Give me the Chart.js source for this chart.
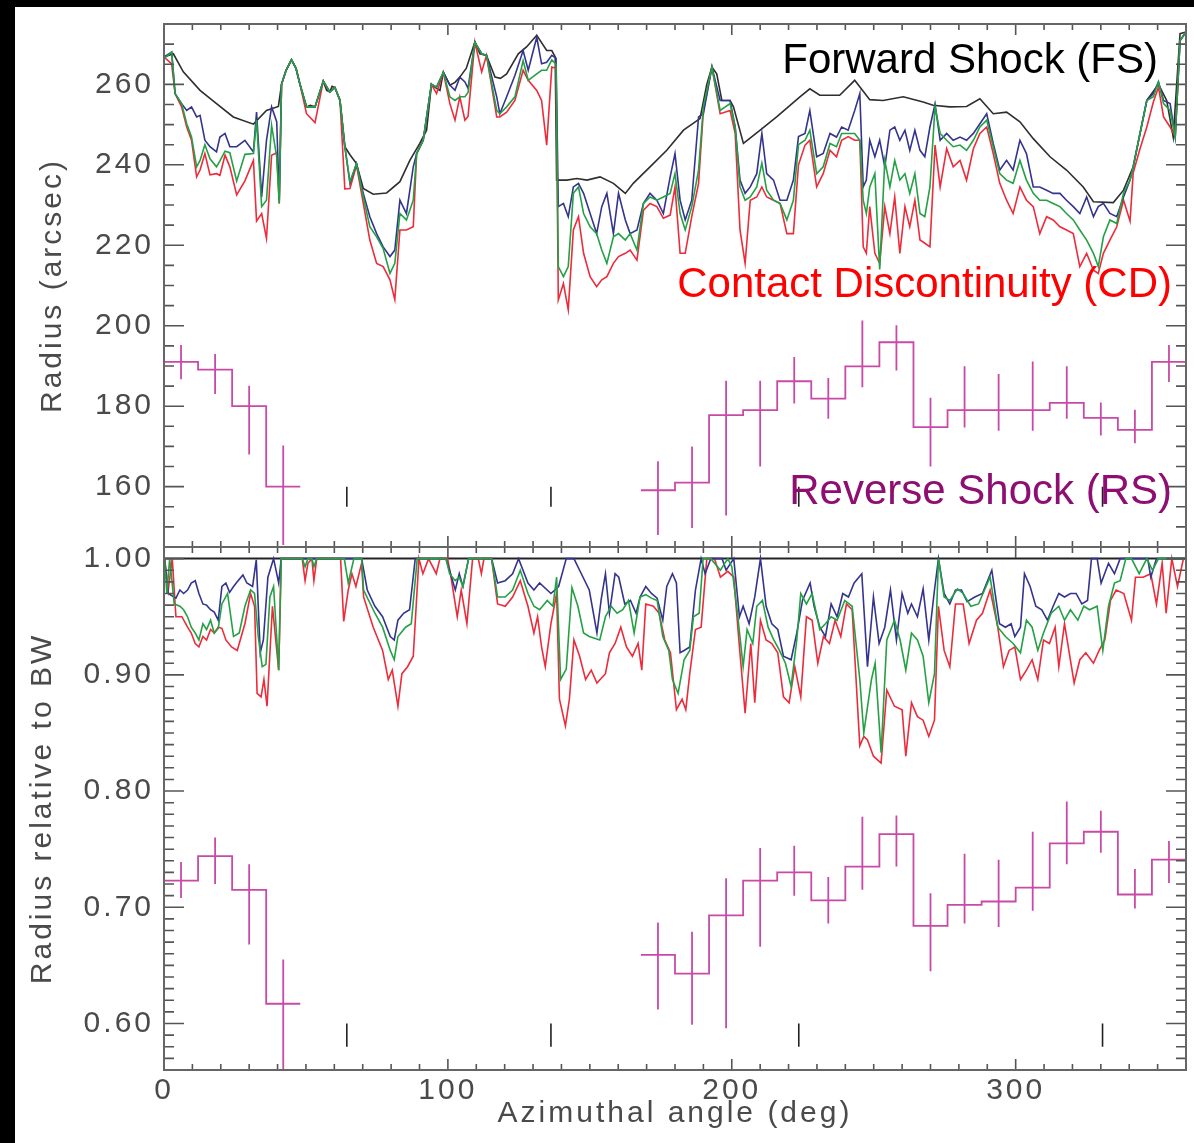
<!DOCTYPE html>
<html>
<head>
<meta charset="utf-8">
<script src="https://cdn.jsdelivr.net/npm/chart.js@4.4.1/dist/chart.umd.min.js"></script>
<style>
  html, body { margin: 0; padding: 0; background: #000; overflow: hidden; }
  #page { position: absolute; left: 15px; top: 7px; width: 1179px; height: 1136px; background: #fff; }
  canvas { position: absolute; left: 0; }
  #top { top: 0; width: 1194px; height: 560px; }
  #bottom { top: 530px; width: 1194px; height: 613px; }
</style>
</head>
<body>
<div id="page"></div>
<canvas id="top" width="1194" height="560"></canvas>
<canvas id="bottom" width="1194" height="613"></canvas>
<script>
// ---- tick labels ----
const angleTicks = [0, 100, 200, 300];
const radiusTicks = [160, 180, 200, 220, 240, 260];
const relTicks = [0.6, 0.7, 0.8, 0.9, 1.0];

// ---- forward shock (FS) radius, arcsec ----
const fsAngle = [0, 3.3, 6.8, 12.7, 18.5, 24.4, 31.5, 36.1, 40.3, 41.4, 43, 44.9, 46.5, 47.9, 50.2, 51.5, 53.2, 56.1, 57.3, 58.4,
  59.2, 60.2, 62, 63.7, 65.5, 67.8, 70.2, 73.7, 78.4, 83.1, 86.6, 90.1, 92.5, 94.2, 96, 97.2, 98.4, 100.7, 102.5, 104.2,
  106.5, 109.5, 111.3, 113.6, 116.6, 118.5, 120.7, 124.8, 127.7, 131.3, 134.8, 136.6, 137.8, 138.3, 141.9, 145.4, 149, 153.6, 158.3, 162.5,
  165.3, 171.2, 177.1, 183, 188.8, 191.2, 193, 194.7, 196.5, 199.4, 200.6, 204.1, 210, 215.8, 224, 227.5, 231, 238, 243.3, 248.6,
  253.3, 260.4, 267.4, 270.9, 276.8, 282.7, 287.4, 292.1, 296.8, 301.5, 306.2, 312.1, 317.9, 323.8, 327.4, 334.4, 338, 341.4, 346.2, 350.3,
  353.2, 355.5, 357.9, 360];
const fsRadius = [266.8, 267.6, 263.1, 258.5, 255.2, 251.9, 250.1, 253.5, 254.5, 260.0, 263.5, 266.1, 264.0, 260.0, 254.4, 254.8, 254.4, 260.8, 258.5, 258.1,
  259.5, 259.2, 256.0, 244.5, 242.5, 240.3, 234.1, 232.7, 233.0, 235.8, 241.1, 245.3, 248.6, 260.0, 259.0, 258.5, 263.0, 259.8, 260.5, 261.8,
  264.0, 270.5, 267.6, 267.2, 261.8, 261.5, 262.6, 267.6, 269.3, 272.2, 268.4, 268.4, 266.8, 236.2, 236.2, 236.6, 236.2, 237.0, 235.4, 232.9,
  235.4, 239.5, 243.6, 248.6, 251.5, 260.0, 264.3, 262.6, 256.0, 256.0, 254.4, 245.3, 248.6, 251.9, 256.9, 258.9, 257.3, 257.3, 261.0, 256.2,
  256.0, 256.9, 255.6, 254.8, 254.4, 254.5, 256.4, 252.7, 253.1, 250.7, 246.5, 242.0, 238.7, 234.5, 230.8, 230.6, 233.7, 239.5, 256.0, 260.0,
  256.0, 246.9, 272.6, 273.0];

// ---- contact discontinuity (CD) radius, three estimates, arcsec ----
const cdAngle = [0, 2.7, 3.9, 6.2, 8, 9.7, 11.5, 12.7, 14.4, 16.2, 18.5, 19.7, 21.5, 23.2, 25.6, 28.5, 31.5, 32.6, 34.4, 36.1,
  37.9, 39.7, 40.6, 41.4, 43, 44.9, 46.5, 47.9, 50.2, 53.2, 56.1, 58.4, 60.2, 62, 63.7, 65.5, 67.8, 70.2, 72.5, 74.9,
  77.2, 79.6, 81.3, 83.1, 85.4, 87.8, 89, 91.3, 94.2, 96, 98.4, 100.7, 102.5, 104.2, 106, 107.1, 109.5, 111.9, 113.6, 117.2,
  118.3, 120.7, 123.6, 126.5, 128.3, 131.3, 133, 134.8, 136.6, 138.1, 138.9, 140.7, 142.4, 144.2, 146, 147.8, 150.1, 152.4, 154.2, 156,
  158.3, 160.1, 162.5, 164.2, 166.6, 168.9, 171.2, 173.6, 175.9, 178.3, 180, 181.8, 183.6, 185.9, 188.3, 190, 193, 195.9, 199.4, 201.2,
  202.9, 204.7, 206.5, 208.8, 210.6, 212.3, 214.7, 217, 219.4, 221.7, 223.5, 225.8, 227.5, 229.9, 232.2, 234.6, 236.9, 238.7, 241, 243.3,
  245.1, 246.3, 247.4, 248.6, 250.4, 252.1, 253.9, 255.7, 257.4, 259.2, 261, 262.7, 264.5, 266.3, 268, 269.8, 271.6, 273.4, 275.7, 278,
  280.4, 282.7, 285.1, 287.4, 289.8, 292.1, 294.4, 296.8, 299.1, 301.5, 303.8, 306.2, 308.5, 310.9, 313.2, 315.6, 317.9, 320.3, 322.6, 325,
  327.4, 329.1, 330.9, 333.2, 335.6, 338, 340.3, 341.4, 343.8, 346.2, 348.5, 350.3, 352.1, 354.4, 356.2, 357.9, 360];
const cdBlue = [266.8, 268.0, 257.7, 255.2, 253.5, 254.4, 251.9, 252.3, 246.1, 244.5, 243.2, 246.9, 247.8, 244.5, 244.5, 246.1, 243.2, 253.1, 232.0, 246.1,
  254.4, 250.7, 231.2, 260.0, 263.5, 266.1, 264.0, 260.0, 254.4, 254.4, 260.8, 258.1, 259.2, 256.0, 244.5, 235.4, 240.3, 232.9, 227.1, 222.9,
  219.6, 217.2, 218.8, 231.2, 227.9, 239.5, 242.8, 246.1, 260.0, 259.3, 263.0, 259.8, 258.5, 261.8, 260.6, 259.0, 270.5, 267.6, 267.2, 256.9,
  252.7, 256.9, 262.2, 268.4, 263.5, 271.7, 265.1, 265.5, 267.2, 266.5, 229.6, 230.4, 227.1, 234.5, 235.4, 232.9, 227.9, 222.9, 229.6, 232.9,
  222.9, 232.9, 226.3, 222.9, 223.8, 230.4, 232.9, 231.2, 227.9, 237.0, 242.8, 231.2, 226.3, 231.2, 251.9, 252.7, 264.3, 256.0, 256.0, 249.4,
  236.2, 232.9, 234.5, 237.8, 247.8, 237.8, 236.2, 231.2, 231.2, 236.2, 247.0, 247.8, 253.5, 242.0, 242.8, 247.8, 246.9, 249.4, 248.6, 253.5,
  257.7, 234.5, 236.2, 246.1, 242.0, 246.1, 239.5, 248.6, 249.4, 246.1, 248.6, 243.6, 248.6, 243.6, 242.0, 249.4, 255.1, 246.1, 247.8, 246.1,
  246.9, 246.1, 247.8, 250.2, 252.7, 245.3, 238.7, 241.1, 238.7, 246.1, 242.8, 234.5, 234.5, 233.7, 232.9, 232.9, 231.2, 229.6, 227.9, 232.0,
  227.1, 229.6, 230.4, 227.9, 227.1, 232.0, 236.2, 239.5, 247.8, 256.0, 257.7, 260.6, 256.0, 255.2, 246.9, 270.9, 273.0];
const cdGreen = [266.4, 268.0, 257.7, 255.2, 250.2, 246.9, 239.5, 241.1, 245.0, 241.5, 239.5, 241.0, 243.4, 243.0, 236.0, 242.6, 242.8, 251.1, 229.6, 231.2,
  249.8, 242.0, 230.4, 260.0, 263.5, 266.1, 264.0, 260.0, 254.4, 254.4, 260.8, 258.1, 259.2, 256.0, 244.5, 235.8, 240.3, 232.0, 224.6, 222.1,
  219.2, 213.0, 215.5, 227.9, 226.3, 231.2, 242.8, 246.1, 260.0, 259.3, 263.0, 256.9, 256.0, 256.9, 256.9, 258.0, 270.5, 267.6, 267.2, 253.5,
  252.7, 254.4, 256.9, 265.9, 261.0, 262.6, 263.5, 263.5, 266.1, 265.0, 214.7, 212.2, 214.7, 232.9, 234.5, 227.9, 224.6, 222.9, 218.8, 215.5,
  222.1, 222.9, 221.3, 222.9, 218.8, 230.4, 232.0, 231.2, 232.0, 232.9, 237.8, 227.9, 223.8, 229.6, 238.7, 254.4, 264.3, 253.5, 255.2, 249.4,
  234.5, 231.2, 232.0, 234.5, 240.4, 233.7, 231.2, 230.4, 226.3, 231.2, 245.0, 246.1, 248.6, 237.8, 239.5, 245.3, 244.5, 247.8, 247.8, 247.8,
  246.1, 231.2, 227.9, 234.5, 237.8, 214.0, 241.1, 234.5, 241.1, 236.2, 237.8, 232.9, 237.8, 227.9, 227.1, 234.5, 254.4, 247.8, 246.1, 244.5,
  244.9, 243.6, 246.1, 249.4, 251.1, 244.5, 237.8, 236.2, 235.4, 241.1, 236.2, 232.9, 231.2, 231.2, 230.4, 229.6, 227.9, 226.3, 223.8, 221.3,
  218.0, 214.7, 222.1, 226.3, 225.4, 233.0, 236.2, 239.5, 247.8, 256.0, 256.9, 260.6, 255.2, 253.5, 246.9, 270.9, 273.0];
const cdRed = [266.8, 265.1, 257.7, 254.4, 249.4, 246.1, 237.0, 238.7, 242.8, 237.5, 237.8, 237.4, 242.4, 239.5, 232.5, 236.0, 241.1, 226.0, 227.9, 221.7,
  242.4, 243.0, 230.4, 260.0, 263.5, 266.1, 264.0, 260.0, 252.7, 250.5, 260.8, 258.1, 259.2, 256.0, 234.0, 234.1, 239.9, 230.4, 221.3, 215.5,
  214.7, 211.4, 206.5, 223.8, 223.8, 224.6, 242.8, 246.1, 260.0, 257.7, 263.0, 255.2, 251.1, 256.9, 251.1, 252.0, 270.5, 263.1, 267.2, 251.9,
  251.9, 253.1, 256.0, 263.5, 261.0, 258.5, 256.0, 244.9, 264.3, 264.0, 206.4, 210.5, 204.0, 223.8, 227.1, 218.0, 212.2, 209.7, 211.4, 212.2,
  215.5, 217.2, 218.0, 218.8, 216.3, 228.7, 230.4, 229.6, 226.7, 227.5, 234.5, 218.0, 218.0, 227.1, 235.4, 253.5, 264.3, 252.7, 253.5, 247.8,
  223.8, 215.5, 231.2, 232.0, 234.5, 232.0, 231.2, 230.4, 222.9, 222.9, 240.0, 244.9, 246.1, 234.5, 237.8, 243.6, 242.0, 246.1, 247.0, 246.1,
  246.1, 219.6, 218.0, 229.6, 218.0, 215.5, 229.6, 222.9, 232.0, 218.0, 229.6, 224.6, 231.2, 221.3, 220.5, 219.6, 244.9, 234.5, 244.0, 239.5,
  241.1, 236.2, 244.0, 247.8, 249.4, 242.8, 235.4, 231.2, 227.9, 234.5, 231.2, 229.6, 222.9, 227.1, 226.3, 224.6, 223.8, 222.9, 214.7, 218.0,
  213.8, 213.0, 218.0, 221.3, 224.6, 231.2, 226.0, 238.0, 244.0, 249.4, 255.6, 259.3, 251.9, 249.4, 246.9, 270.9, 273.0];

// ---- reverse shock (RS), 12 deg bins ----
const rsBinWidth = 12;
const rsAngle = [6, 18, 30, 42, 174, 186, 198, 210, 222, 234, 246, 258, 270, 282, 294, 306, 318, 330, 342, 354];
const rsRadius = [191.0, 189.1, 180.0, 160.0, 159.1, 161.0, 177.8, 179.0, 186.2, 181.9, 189.9, 195.9, 174.8, 179.0, 179.0, 179.0, 180.8, 177.1, 174.1, 191.0];
const rsRadiusLo = [186.7, 183.0, 168.0, 145.5, 148.0, 149.7, 152.8, 165.0, 180.7, 176.9, 184.7, 188.9, 165.0, 174.7, 173.9, 173.9, 176.9, 172.7, 170.8, 186.0];
const rsRadiusHi = [195.2, 193.0, 185.1, 170.2, 166.3, 170.0, 186.3, 186.3, 192.2, 187.0, 201.3, 200.1, 182.1, 189.9, 188.0, 191.1, 189.9, 180.9, 179.1, 195.2];
const rsRel = [0.723, 0.744, 0.715, 0.617, 0.659, 0.643, 0.693, 0.723, 0.730, 0.706, 0.735, 0.763, 0.684, 0.702, 0.705, 0.717, 0.755, 0.765, 0.711, 0.741];
const rsRelLo = [0.708, 0.720, 0.668, 0.560, 0.612, 0.599, 0.596, 0.666, 0.710, 0.686, 0.715, 0.735, 0.645, 0.686, 0.683, 0.697, 0.737, 0.747, 0.699, 0.721];
const rsRelHi = [0.739, 0.760, 0.737, 0.655, 0.687, 0.679, 0.725, 0.751, 0.753, 0.726, 0.778, 0.779, 0.712, 0.746, 0.741, 0.765, 0.791, 0.783, 0.733, 0.757];

// ---- short region markers ----
const markAngle = [64.4, 136.3, 223.6, 330.6];
const markRadius = [155, 160];
const markRel = [0.58, 0.60];

// ---- radius relative to the blast wave ----
const relBlueAngle = [0.2, 1.5, 4.2, 5.6, 6.9, 8.3, 9.6, 11, 12.3, 13.7, 15, 16.4, 17.7, 19.1, 20.4, 21.8, 23.1, 24.5, 25.8, 27.8,
  29.2, 31.2, 32.5, 33.9, 35, 36.6, 38.6, 40.4, 41.3, 69.6, 71.6, 74.3, 77, 79.7, 81.1, 82.4, 84.4, 86.5, 88.5, 99.3,
  100.6, 102.6, 104, 105.3, 107.3, 115.4, 117.5, 120.2, 122.8, 124.9, 128.2, 130.3, 132.3, 136.3, 139, 141.7, 144.4, 146.4, 149.8, 152.5,
  154, 155.5, 156.9, 158.9, 160.2, 162.3, 164.3, 166.3, 167.7, 169.7, 171.7, 173.7, 175.7, 177.1, 179.1, 180.5, 181.8, 183.2, 185.2, 187.2,
  189.2, 190.6, 192.6, 196.6, 198, 200.7, 202.7, 204, 206.1, 208.1, 210.1, 212.1, 214.1, 216.2, 218.2, 220.9, 222.9, 224.9, 227.6, 229,
  231, 233, 235, 237.1, 239.1, 241.1, 243.1, 245.8, 247.8, 249.9, 251.9, 253.9, 255.9, 258, 260, 262, 263.3, 265.4, 267.4, 269.4,
  271.4, 272.8, 274.8, 276.8, 278.8, 280.9, 282.9, 285.6, 288.3, 291.6, 294.3, 296.4, 298.4, 299.7, 301.7, 303.1, 305.1, 307.1, 309.2, 311.2,
  313.2, 315.2, 317.2, 319.3, 321.3, 323.3, 325.3, 326.7, 328.7, 330.1, 332.7, 334.8, 336.8, 346.5, 347.6, 349.6, 360];
const relBlue = [1.0, 0.970, 0.966, 0.973, 0.970, 0.973, 0.979, 0.981, 0.970, 0.961, 0.960, 0.956, 0.954, 0.947, 0.976, 0.979, 0.971, 0.976, 0.980, 0.986,
  0.979, 0.976, 0.999, 0.919, 0.930, 0.984, 1.0, 0.979, 1.0, 1.0, 0.973, 0.959, 0.950, 0.933, 0.930, 0.947, 0.953, 0.956, 1.0, 1.0,
  0.990, 0.973, 0.987, 0.976, 1.0, 1.0, 0.979, 0.981, 0.987, 1.0, 0.979, 0.973, 0.979, 0.970, 0.976, 1.0, 1.0, 0.990, 0.973, 0.936,
  0.965, 0.987, 0.953, 0.987, 0.984, 0.961, 0.964, 0.953, 0.967, 0.976, 0.970, 0.966, 0.947, 0.976, 0.987, 0.979, 0.919, 0.921, 0.924, 0.973,
  1.0, 0.987, 1.0, 1.0, 0.990, 1.0, 0.950, 0.959, 0.944, 0.967, 1.0, 0.959, 0.944, 0.939, 0.916, 0.913, 0.936, 0.964, 0.979, 0.959,
  0.941, 0.933, 0.961, 0.950, 0.970, 0.967, 0.979, 0.987, 0.907, 0.967, 0.927, 0.941, 0.973, 0.930, 0.970, 0.953, 0.961, 0.950, 0.974, 0.930,
  0.973, 1.0, 0.970, 0.961, 0.973, 0.973, 0.963, 0.967, 0.970, 0.990, 0.944, 0.941, 0.944, 0.933, 0.941, 0.987, 0.976, 0.959, 0.956, 0.947,
  0.959, 0.970, 0.967, 0.970, 0.970, 0.961, 0.964, 1.0, 1.0, 0.979, 0.996, 0.987, 1.0, 1.0, 0.984, 1.0, 1.0];

const relGreenAngle = [0.2, 1, 2, 3.6, 5.6, 6.9, 8.3, 9.6, 11, 12.3, 13.7, 15, 16.4, 17.7, 19.1, 20.4, 22.4, 24.5, 26.5, 28.5,
  30.5, 31.9, 33.2, 34.6, 35.9, 37.3, 38.6, 40.4, 41.3, 48.7, 49.7, 50.7, 52.1, 52.8, 53.8, 63.5, 64.9, 66.9, 69.6, 70.3,
  74.3, 77, 79.7, 81.1, 82.4, 85.1, 87.1, 89.2, 99.3, 100.6, 102.6, 104, 105.3, 107.3, 115.4, 117.5, 120.2, 122.8, 125.5, 128.2,
  130.3, 132.3, 135, 137, 138.3, 139.7, 141.7, 143.7, 145.8, 147.8, 149.8, 153.5, 155.5, 157.5, 159.6, 161.6, 163.6, 165.6, 167.7, 169.7,
  171.7, 173.7, 175.7, 177.8, 179.1, 181.1, 183.2, 185.2, 186.5, 188.5, 189.9, 192.6, 196, 198.6, 200, 202, 204, 205.4, 207.4, 208.8,
  210.8, 212.8, 214.8, 216.8, 218.9, 220.9, 222.9, 224.3, 226.3, 228.3, 231, 233, 235, 237.1, 239.8, 242.4, 245.1, 246.5, 249.2, 250.5,
  252.6, 254.6, 257.3, 259.3, 261.3, 263.3, 265.4, 267.4, 269.4, 271.4, 272.8, 274.8, 276.8, 279.5, 281.5, 284.2, 286.9, 291, 293.7, 296.4,
  299.1, 301.7, 303.8, 305.8, 307.8, 309.8, 312.5, 315.2, 317.2, 319.3, 321.9, 324, 326, 328.7, 330.7, 332.7, 334.8, 336.8, 338.8, 340.8,
  343.5, 346.2, 348.2, 350.3, 360];
const relGreen = [1.0, 0.970, 1.0, 0.961, 0.959, 0.956, 0.950, 0.941, 0.936, 0.930, 0.944, 0.939, 0.947, 0.936, 0.940, 0.961, 0.970, 0.933, 0.936, 0.959,
  0.973, 0.970, 0.933, 0.907, 0.909, 0.967, 0.976, 0.904, 1.0, 1.0, 0.993, 1.0, 1.0, 0.993, 1.0, 1.0, 0.979, 1.0, 1.0, 0.973,
  0.953, 0.941, 0.921, 0.913, 0.933, 0.941, 0.944, 1.0, 1.0, 0.987, 0.981, 0.984, 0.976, 1.0, 1.0, 0.967, 0.967, 0.973, 0.990, 0.970,
  0.959, 0.956, 0.964, 0.959, 0.984, 0.896, 0.905, 0.975, 0.959, 0.936, 0.933, 0.930, 0.950, 0.959, 0.953, 0.956, 0.964, 0.936, 0.967, 0.969,
  0.966, 0.964, 0.933, 0.921, 0.896, 0.884, 0.913, 0.921, 0.950, 0.953, 1.0, 1.0, 0.990, 1.0, 0.993, 0.953, 0.907, 0.939, 0.927, 0.959,
  0.964, 0.941, 0.930, 0.921, 0.910, 0.890, 0.930, 0.970, 0.961, 0.970, 0.939, 0.944, 0.950, 0.947, 0.964, 0.959, 0.896, 0.850, 0.896, 0.910,
  0.833, 0.930, 0.947, 0.930, 0.904, 0.936, 0.930, 0.916, 0.876, 0.901, 1.0, 0.967, 0.964, 0.974, 0.970, 0.959, 0.961, 0.984, 0.941, 0.933,
  0.927, 0.919, 0.947, 0.941, 0.921, 0.936, 0.953, 0.959, 0.947, 0.956, 0.947, 0.959, 0.956, 0.959, 0.921, 0.959, 0.979, 0.981, 1.0, 1.0,
  0.987, 1.0, 0.990, 1.0, 1.0];

const relRedAngle = [0.2, 1.5, 2.9, 4.2, 6.3, 8.3, 9.6, 11, 12.3, 13.7, 15, 16.4, 17.7, 19.1, 20.4, 21.8, 23.8, 25.8, 28.5, 30.5,
  31.9, 32.8, 34.2, 35.2, 36.3, 38.2, 40.4, 41.3, 48.7, 49.7, 50.7, 52.1, 52.8, 53.8, 62.2, 63.3, 64.9, 66.2, 67.6, 69.6,
  70.3, 73.7, 77, 79, 80.4, 82.4, 83.8, 85.8, 87.8, 89.8, 91.2, 93.2, 95.9, 97.2, 99.9, 101.3, 103.3, 104.7, 106.7, 108.7,
  110.7, 111.8, 112.7, 115.4, 117.5, 120.2, 122.8, 125.5, 128.2, 130.3, 131.6, 133, 134.3, 136.3, 138.3, 139.3, 140.4, 141.4, 142.8, 144.4,
  146.4, 148.5, 150.5, 152.5, 155.5, 156.9, 158.9, 160.9, 162.9, 165, 167, 168.3, 169.7, 172.4, 174.4, 176.4, 178.4, 180.5, 182.5, 183.8,
  185.2, 187.2, 189.2, 191.2, 193.9, 196, 198.6, 200.7, 202.7, 204.7, 206.7, 208.1, 210.1, 212.1, 214.1, 216.2, 218.2, 220.2, 222.2, 224.3,
  226.3, 228.3, 230.3, 232.3, 234.4, 236.4, 238.4, 240.4, 242.4, 245.1, 246.5, 247.8, 249.9, 252.6, 254.6, 257.3, 260, 261.3, 263.3, 265.4,
  267.4, 269.4, 271.4, 272.8, 274.8, 276.8, 278.8, 281.5, 283.6, 286.2, 288.3, 291, 293.7, 295.7, 297.7, 299.7, 301.7, 303.8, 305.8, 307.8,
  309.8, 311.9, 313.9, 315.2, 317.2, 320.6, 322.6, 324.7, 327.4, 329.4, 331.4, 333.4, 335.4, 338.1, 340.8, 342.2, 344.9, 347.6, 349.6, 351.6,
  353, 355, 357, 359.1, 360];
const relRed = [1.0, 0.973, 1.0, 0.950, 0.950, 0.941, 0.936, 0.927, 0.924, 0.933, 0.930, 0.939, 0.936, 0.941, 0.940, 0.930, 0.924, 0.921, 0.944, 0.970,
  0.959, 0.884, 0.881, 0.896, 0.873, 0.959, 0.904, 1.0, 1.0, 0.981, 0.996, 1.0, 0.981, 1.0, 1.0, 0.946, 0.973, 0.987, 0.976, 0.996,
  0.967, 0.941, 0.921, 0.896, 0.904, 0.873, 0.901, 0.907, 0.916, 1.0, 0.987, 1.0, 0.987, 1.0, 1.0, 0.981, 0.950, 0.973, 0.944, 1.0,
  1.0, 0.987, 1.0, 1.0, 0.961, 0.959, 0.967, 0.981, 0.959, 0.936, 0.950, 0.924, 0.907, 0.944, 0.970, 0.879, 0.867, 0.856, 0.879, 0.930,
  0.916, 0.896, 0.904, 0.893, 0.901, 0.919, 0.927, 0.941, 0.924, 0.916, 0.927, 0.904, 0.961, 0.959, 0.953, 0.930, 0.919, 0.870, 0.879, 0.870,
  0.901, 0.939, 0.941, 1.0, 1.0, 0.984, 0.989, 0.984, 0.924, 0.867, 0.927, 0.876, 0.947, 0.930, 0.927, 0.919, 0.881, 0.876, 0.907, 0.881,
  0.950, 0.947, 0.910, 0.933, 0.927, 0.947, 0.933, 0.961, 0.956, 0.839, 0.847, 0.844, 0.830, 0.824, 0.887, 0.873, 0.870, 0.830, 0.876, 0.864,
  0.861, 0.847, 0.861, 0.959, 0.921, 0.907, 0.961, 0.961, 0.927, 0.947, 0.953, 0.973, 0.941, 0.907, 0.921, 0.924, 0.896, 0.904, 0.913, 0.896,
  0.930, 0.927, 0.941, 0.907, 0.944, 0.893, 0.913, 0.919, 0.910, 0.921, 0.930, 0.964, 0.973, 0.970, 0.947, 0.984, 0.984, 0.987, 0.961, 0.996,
  0.953, 1.0, 0.976, 1.0, 1.0];

const bwAngle = [0, 360];
const bwRel = [1.0, 1.0];

// ---- styling ----
const FONT = '"Liberation Sans", Arial, sans-serif';
const AXIS_TEXT = '#4a4a4a';
const COLORS = { fs: '#2e2e2e', blue: '#34348e', green: '#24a045', red: '#ec2b3b', rs: '#c94aa6' };

function points(xs, ys) {
  return xs.map((x, i) => ({ x, y: ys[i] }));
}

function stepPoints(centers, values) {
  const pts = [];
  centers.forEach((c, i) => {
    if (i > 0 && c - centers[i - 1] > rsBinWidth + 0.1) pts.push({ x: c - rsBinWidth, y: null });
    pts.push({ x: c - rsBinWidth / 2, y: values[i] }, { x: c + rsBinWidth / 2, y: values[i] });
  });
  return pts;
}

function segments(xs, lo, hi) {
  const pts = [];
  xs.forEach((x, i) => {
    const a = Array.isArray(lo) ? lo[i] : lo;
    const b = Array.isArray(hi) ? hi[i] : hi;
    pts.push({ x, y: a }, { x, y: b }, { x, y: null });
  });
  return pts;
}

function line(data, color, width) {
  return { data, borderColor: color, borderWidth: width || 1.6, pointRadius: 0, tension: 0, spanGaps: false };
}

const letterSpacing = {
  id: 'letterSpacing',
  beforeDraw(chart) { chart.ctx.letterSpacing = '3px'; }
};

const frameTicks = {
  id: 'frameTicks',
  afterDatasetsDraw(chart, args, o) {
    const { ctx, chartArea: a, scales: { x, y } } = chart;
    ctx.save();
    ctx.strokeStyle = '#555';
    ctx.lineWidth = 1.6;
    ctx.beginPath();
    for (let v = 0; v <= 360; v += 10) {
      const px = x.getPixelForValue(v);
      const len = angleTicks.includes(v) ? 11 : 6;
      ctx.moveTo(px, a.top); ctx.lineTo(px, a.top + len);
      ctx.moveTo(px, a.bottom); ctx.lineTo(px, a.bottom - len);
    }
    const n = Math.round((o.max - o.min) / o.minor);
    for (let i = 0; i <= n; i++) {
      const v = o.min + i * o.minor;
      const r = v / o.major;
      const len = Math.abs(r - Math.round(r)) < 1e-6 ? 20 : 10;
      const py = y.getPixelForValue(v);
      ctx.moveTo(a.left, py); ctx.lineTo(a.left + len, py);
      ctx.moveTo(a.right, py); ctx.lineTo(a.right - len, py);
    }
    ctx.stroke();
    ctx.strokeStyle = '#666';
    ctx.lineWidth = 2;
    ctx.strokeRect(a.left, a.top, a.right - a.left, a.bottom - a.top);
    ctx.restore();
  }
};

const plotLabels = {
  id: 'plotLabels',
  afterDraw(chart, args, o) {
    const { ctx, chartArea: a } = chart;
    ctx.save();
    ctx.letterSpacing = '0px';
    ctx.font = '42px ' + FONT;
    ctx.textAlign = 'right';
    ctx.textBaseline = 'alphabetic';
    (o.items || []).forEach(it => {
      ctx.fillStyle = it.color;
      ctx.fillText(it.text, a.right - it.right, a.top + it.baseline);
    });
    ctx.restore();
  }
};

function yScale(min, max, ticks, title, titlePad, fmt) {
  return {
    type: 'linear', min, max,
    afterFit: s => { s.width = 164; s.paddingTop = 0; s.paddingBottom = 0; },
    afterBuildTicks: s => { s.ticks = ticks.map(v => ({ value: v })); },
    grid: { display: false, drawTicks: false },
    border: { display: false },
    ticks: { padding: 10, color: AXIS_TEXT, font: { family: FONT, size: 30 }, callback: fmt },
    title: { display: true, text: title, color: AXIS_TEXT, font: { family: FONT, size: 30 }, padding: { top: titlePad, bottom: 0 } }
  };
}

const common = {
  responsive: false,
  animation: false,
  events: []
};

new Chart(document.getElementById('top'), {
  type: 'line',
  data: {
    datasets: [
      line(segments(markAngle, markRadius[0], markRadius[1]), '#222', 1.6),
      line(segments(rsAngle, rsRadiusLo, rsRadiusHi), COLORS.rs, 1.8),
      line(stepPoints(rsAngle, rsRadius), COLORS.rs, 1.8),
      line(points(cdAngle, cdGreen), COLORS.green),
      line(points(cdAngle, cdBlue), COLORS.blue),
      line(points(cdAngle, cdRed), COLORS.red),
      line(points(fsAngle, fsRadius), COLORS.fs)
    ]
  },
  options: {
    ...common,
    layout: { padding: { top: 24, right: 8, bottom: 13, left: 0 } },
    plugins: {
      legend: { display: false },
      tooltip: { enabled: false },
      frameTicks: { min: 145, max: 275, minor: 5, major: 20 },
      plotLabels: {
        items: [
          { text: 'Forward Shock (FS)', color: '#000', right: 28, baseline: 49 },
          { text: 'Contact Discontinuity (CD)', color: '#ff0000', right: 14, baseline: 273 },
          { text: 'Reverse Shock (RS)', color: '#8e0e72', right: 14, baseline: 480 }
        ]
      }
    },
    scales: {
      x: { type: 'linear', min: 0, max: 360, display: false },
      y: yScale(145, 275, radiusTicks, 'Radius (arcsec)', 35, v => String(v))
    }
  },
  plugins: [letterSpacing, frameTicks, plotLabels]
});

new Chart(document.getElementById('bottom'), {
  type: 'line',
  data: {
    datasets: [
      line(segments(markAngle, markRel[0], markRel[1]), '#222', 1.6),
      line(segments(rsAngle, rsRelLo, rsRelHi), COLORS.rs, 1.8),
      line(stepPoints(rsAngle, rsRel), COLORS.rs, 1.8),
      line(points(relGreenAngle, relGreen), COLORS.green),
      line(points(relBlueAngle, relBlue), COLORS.blue),
      line(points(relRedAngle, relRed), COLORS.red),
      line(points(bwAngle, bwRel), '#222', 2)
    ]
  },
  options: {
    ...common,
    layout: { padding: { top: 17, right: 8, bottom: 0, left: 0 } },
    plugins: {
      legend: { display: false },
      tooltip: { enabled: false },
      frameTicks: { min: 0.56, max: 1.01, minor: 0.01, major: 0.1 }
    },
    scales: {
      x: {
        type: 'linear', min: 0, max: 360,
        afterFit: s => { s.height = 73; s.paddingLeft = 0; s.paddingRight = 0; },
        afterBuildTicks: s => { s.ticks = angleTicks.map(v => ({ value: v })); },
        grid: { display: false, drawTicks: false },
        border: { display: false },
        ticks: { padding: 3, maxRotation: 0, color: AXIS_TEXT, font: { family: FONT, size: 30 } },
        title: { display: true, text: 'Azimuthal angle (deg)', color: AXIS_TEXT, font: { family: FONT, size: 30 }, padding: { top: 0, bottom: 11 } }
      },
      y: yScale(0.56, 1.01, relTicks, 'Radius relative to BW', 25, v => v.toFixed(2))
    }
  },
  plugins: [letterSpacing, frameTicks]
});
</script>
</body>
</html>
